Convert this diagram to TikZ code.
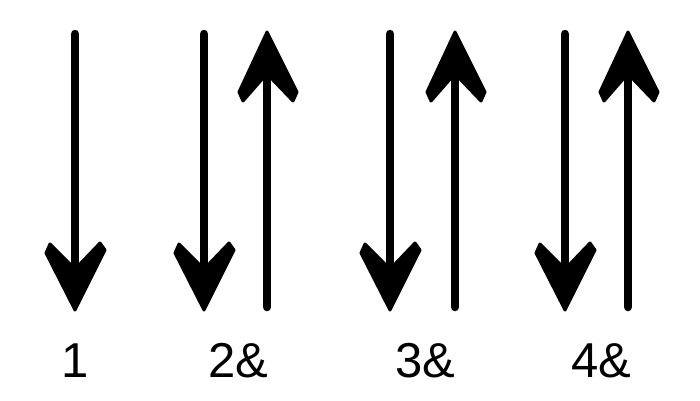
\documentclass[tikz,border=0pt]{standalone}
\usepackage{fontspec}
\setmainfont{Liberation Sans}
\tikzset{
  shaft/.style={line width=8.5pt, line cap=round},
  headfill/.style={fill=black, draw=black, line width=3pt, line join=round},
  lbl/.style={font=\fontsize{49}{49}\selectfont, anchor=base, inner sep=0pt},
  pics/downarr/.style={code={
    \draw[shaft] (0,34) -- (0,285);
    \filldraw[headfill] (0,310) -- (-29,253) -- (-25,244) -- (-3,266) -- (3,266) -- (25,243) -- (30,250) -- cycle;
  }},
  pics/uparr/.style={code={
    \draw[shaft] (0,307) -- (0,60);
    \filldraw[headfill] (0,32) -- (-28,92) -- (-24,101) -- (-3,77) -- (3,77) -- (26,101) -- (30,92) -- cycle;
  }}
}
\begin{document}
\begin{tikzpicture}[x=1pt,y=-1pt]
  \useasboundingbox[fill=white] (0,0) rectangle (700,400);
  \pic at (75,0) {downarr};
  \pic at (204,0) {downarr};
  \pic at (267,0) {uparr};
  \pic at (390,0) {downarr};
  \pic at (455,0) {uparr};
  \pic at (565,0) {downarr};
  \pic at (628,0) {uparr};
  \node[lbl] (l1) at (75,377) {1};
  \node[lbl] (l2) at (238,377) {2\&};
  \node[lbl] (l3) at (425,377) {3\&};
  \node[lbl] (l4) at (601,377) {4\&};
\end{tikzpicture}
\end{document}
